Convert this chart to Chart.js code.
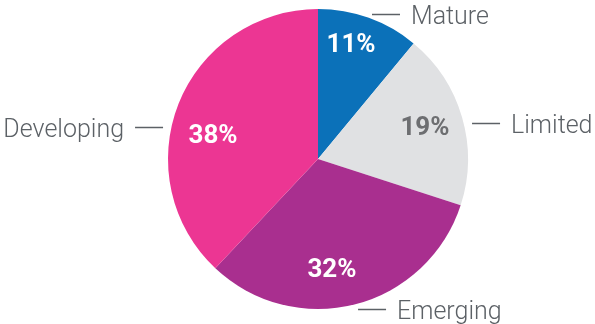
<!DOCTYPE html>
<html>
<head>
<meta charset="utf-8">
<script src="https://cdn.jsdelivr.net/npm/chart.js@4"></script>
<style>
  html, body { margin: 0; padding: 0; background: #ffffff; }
  #wrap { width: 595px; height: 324px; position: relative; }
</style>
</head>
<body>
<div id="wrap"><canvas id="maturity"></canvas></div>
<script>
// data
const categories = ["Mature", "Limited", "Emerging", "Developing"];
const shares = [11, 19, 32, 38];
const pctLabels = ["11%", "19%", "32%", "38%"];

// styles
const sliceColors = ["#0b71b9", "#e0e1e3", "#a92f8f", "#ec3693"];
const pctColors = ["#ffffff", "#6d6e71", "#ffffff", "#ffffff"];
// percent label center, relative to pie center, in units of radius
const pctPos = [[0.22, -0.777], [0.713, -0.223], [0.093, 0.72], [-0.70, -0.167]];
// leader line anchor (end nearest the pie), in units of radius; side: 1 = text on right, -1 = text on left
const leaderPos = [[0.36, -0.967], [1.027, -0.24], [0.267, 1.0], [-1.033, -0.213]];
const leaderSide = [1, 1, 1, -1];
const TEXT_GRAY = "#5c6166";

const labelPlugin = {
  id: "sliceLabels",
  afterDatasetsDraw(chart) {
    const ctx = chart.ctx;
    const arcs = chart.getDatasetMeta(0).data;
    const cx = arcs[0].x;
    const cy = arcs[0].y;
    const r = arcs[0].outerRadius;

    ctx.save();
    ctx.textBaseline = "alphabetic";

    // percentages inside slices
    ctx.font = "700 26px Roboto";
    ctx.textAlign = "center";
    arcs.forEach((arc, i) => {
      ctx.fillStyle = pctColors[i];
      ctx.fillText(pctLabels[i], cx + pctPos[i][0] * r, cy + pctPos[i][1] * r + 9.5);
    });

    // category names with short leader lines
    ctx.font = "300 25px Roboto";
    ctx.strokeStyle = TEXT_GRAY;
    ctx.fillStyle = TEXT_GRAY;
    ctx.lineWidth = 1.5;
    categories.forEach((name, i) => {
      const x0 = cx + leaderPos[i][0] * r;
      const y0 = Math.round(cy + leaderPos[i][1] * r) + 0.5;
      const side = leaderSide[i];
      const x1 = x0 + side * 28;
      ctx.beginPath();
      ctx.moveTo(x0, y0);
      ctx.lineTo(x1, y0);
      ctx.stroke();
      ctx.textAlign = side > 0 ? "left" : "right";
      ctx.fillText(name, x1 + side * 11, y0 + 9);
    });
    ctx.restore();
  }
};

new Chart(document.getElementById("maturity"), {
  type: "pie",
  data: {
    labels: categories,
    datasets: [
      {
        data: shares,
        backgroundColor: sliceColors,
        borderWidth: 0,
      },
    ],
  },
  options: {
    responsive: true,
    maintainAspectRatio: false,
    animation: false,
    layout: {
      padding: { left: 168, right: 127, top: 9, bottom: 15 },
    },
    plugins: {
      legend: { display: false },
      tooltip: { enabled: false },
    },
  },
  plugins: [labelPlugin],
});
</script>
</body>
</html>
